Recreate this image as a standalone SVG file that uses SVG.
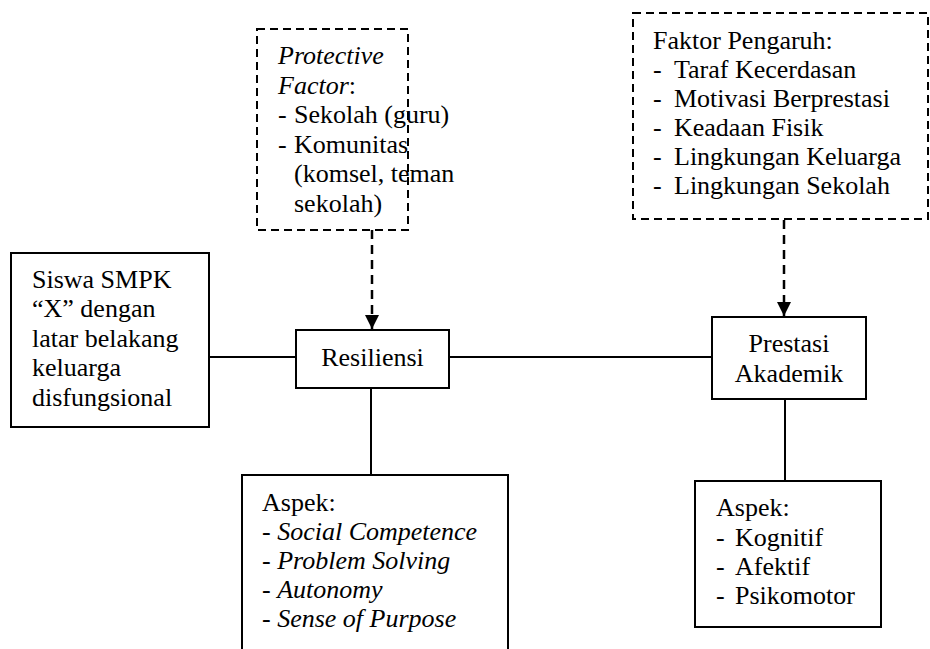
<svg xmlns="http://www.w3.org/2000/svg" width="930" height="649" viewBox="0 0 930 649" font-family="'Liberation Serif', 'Times New Roman', Times, 'DejaVu Serif', serif">
<style>
text{font-family:'Liberation Serif','Times New Roman',Times,'DejaVu Serif',serif;font-size:26px;fill:#000}
.i{font-style:italic}
.box{fill:#fff;stroke:#000;stroke-width:2}
.dbox{fill:#fff;stroke:#000;stroke-width:2;stroke-dasharray:8 5}
.ln{stroke:#000;stroke-width:2;fill:none}
.dl{stroke:#000;stroke-width:2.5;fill:none;stroke-dasharray:9 6}
</style>
<defs>
<marker id="ah" markerUnits="userSpaceOnUse" markerWidth="16" markerHeight="18" refX="14" refY="7" orient="auto">
<path d="M0,0 L14,7 L0,14 Z" fill="#000"/>
</marker>
</defs>
<rect width="930" height="649" fill="#fff"/>
<g id="connectors">
<line class="ln" x1="209" y1="357" x2="296" y2="357"/>
<line class="ln" x1="449" y1="357" x2="712" y2="357"/>
<line class="ln" x1="371" y1="388" x2="371" y2="475"/>
<line class="ln" x1="785" y1="399" x2="785" y2="481"/>
<line class="dl" x1="372" y1="230" x2="372" y2="329" marker-end="url(#ah)"/>
<line class="dl" x1="784" y1="220" x2="784" y2="316" marker-end="url(#ah)"/>
</g>
<g id="protective">
<rect class="dbox" x="257" y="29" width="151" height="201"/>
<text x="278" y="64" class="i">Protective</text>
<text x="278" y="93.5"><tspan class="i">Factor</tspan>:</text>
<text x="278" y="123">-</text><text x="294" y="123">Sekolah (guru)</text>
<text x="278" y="152.5">-</text><text x="294" y="152.5">Komunitas</text>
<text x="294" y="182">(komsel, teman</text>
<text x="294" y="211.5">sekolah)</text>
</g>
<g id="faktor">
<rect class="dbox" x="633" y="13" width="295" height="206"/>
<text x="653" y="49">Faktor Pengaruh:</text>
<text x="653" y="78">-</text><text x="674" y="78">Taraf Kecerdasan</text>
<text x="653" y="107">-</text><text x="674" y="107">Motivasi Berprestasi</text>
<text x="653" y="136">-</text><text x="674" y="136">Keadaan Fisik</text>
<text x="653" y="165">-</text><text x="674" y="165">Lingkungan Keluarga</text>
<text x="653" y="194">-</text><text x="674" y="194">Lingkungan Sekolah</text>
</g>
<g id="siswa">
<rect class="box" x="11" y="253" width="198" height="174"/>
<text x="32" y="288">Siswa SMPK</text>
<text x="32" y="317">“X” dengan</text>
<text x="32" y="347">latar belakang</text>
<text x="32" y="376">keluarga</text>
<text x="32" y="406">disfungsional</text>
</g>
<g id="resiliensi">
<rect class="box" x="296" y="330" width="153" height="58"/>
<text x="372.5" y="366" text-anchor="middle">Resiliensi</text>
</g>
<g id="prestasi">
<rect class="box" x="712" y="317" width="154" height="82"/>
<text x="789" y="352" text-anchor="middle">Prestasi</text>
<text x="789" y="382" text-anchor="middle">Akademik</text>
</g>
<g id="aspek1">
<rect class="box" x="242" y="475" width="266" height="180"/>
<text x="262" y="511">Aspek:</text>
<text x="262" y="540">- <tspan class="i">Social Competence</tspan></text>
<text x="262" y="569">- <tspan class="i">Problem Solving</tspan></text>
<text x="262" y="598">- <tspan class="i">Autonomy</tspan></text>
<text x="262" y="627">- <tspan class="i">Sense of Purpose</tspan></text>
</g>
<g id="aspek2">
<rect class="box" x="695" y="481" width="186" height="146"/>
<text x="716" y="516">Aspek:</text>
<text x="716" y="546">-</text><text x="735" y="546">Kognitif</text>
<text x="716" y="575">-</text><text x="735" y="575">Afektif</text>
<text x="716" y="604">-</text><text x="735" y="604">Psikomotor</text>
</g>
</svg>
